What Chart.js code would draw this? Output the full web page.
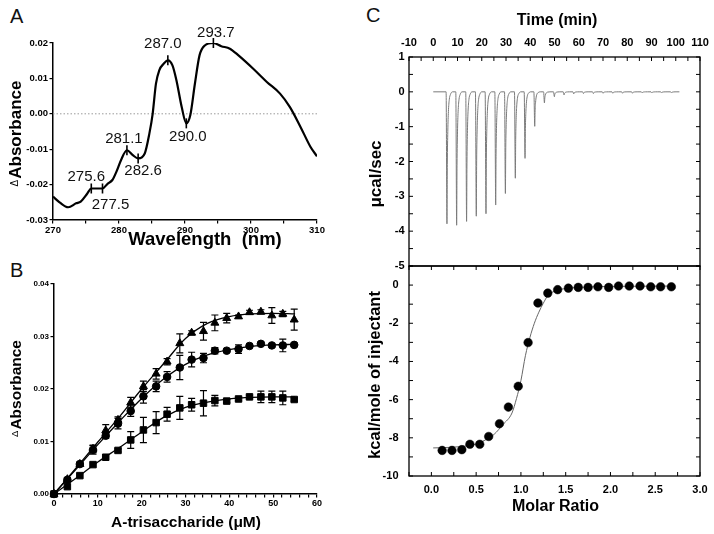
<!DOCTYPE html>
<html>
<head>
<meta charset="utf-8">
<script src="https://cdn.jsdelivr.net/npm/chart.js@4.4.1/dist/chart.umd.min.js"></script>
<style>
  body { margin: 0; background: #fff; }
  #fig { position: relative; width: 714px; height: 534px; background: #fff; font-family: "Liberation Sans", Arial, sans-serif; }
  #fig canvas { position: absolute; }
  .panel { position: absolute; font-size: 20px; line-height: 20px; color: #111; }
</style>
</head>
<body>
<div id="fig">
  <div class="panel" style="left:10px;top:6px">A</div>
  <div class="panel" style="left:10px;top:260px">B</div>
  <div class="panel" style="left:366px;top:5px">C</div>
  <canvas id="chartA" width="340" height="253" style="left:0;top:0"></canvas>
  <canvas id="chartB" width="340" height="281" style="left:0;top:253px"></canvas>
  <canvas id="chartC2" width="354" height="272" style="left:360px;top:262px"></canvas>
  <canvas id="chartC1" width="354" height="276" style="left:360px;top:0"></canvas>
</div>
<script>
var FONT = '"Liberation Sans", Arial, sans-serif';
Chart.defaults.font.family = FONT;
Chart.defaults.color = '#000';
Chart.defaults.animation = false;
Chart.defaults.events = [];
Chart.defaults.plugins.legend.display = false;
Chart.defaults.plugins.tooltip.enabled = false;

// ---- A: difference spectrum
var wavelength = [270, 271, 272.3, 273.5, 274.2, 275.2, 275.8, 276.7, 277.5, 278.3, 279.0, 279.6, 280.3, 281.2,
  282.1, 282.9, 283.9, 284.6, 285.1, 285.6, 286.1, 286.8, 287.4, 288.1, 288.7, 289.5, 290.2, 290.8, 291.5,
  292.2, 293.0, 294.3, 295.5, 296.8, 298.1, 300.3, 302.4, 304.4, 305.9, 307.5, 309.0, 310.0];
var deltaAbs = [-0.0234, -0.0250, -0.0264, -0.0253, -0.0248, -0.0225, -0.0211, -0.0211, -0.0211, -0.0197, -0.0187,
  -0.0164, -0.0131, -0.0103, -0.0117, -0.0126, -0.0112, -0.0056, 0.0000, 0.0085, 0.0123, 0.0142, 0.0151, 0.0137,
  0.0095, 0.0019, -0.0027, -0.0004, 0.0085, 0.0165, 0.0193, 0.0200, 0.0191, 0.0184, 0.0165, 0.0128, 0.0090,
  0.0057, 0.0019, -0.0037, -0.0093, -0.0120];
var zeroLine = [270, 310];
var peakWl = [275.8, 277.5, 281.2, 282.9, 287.4, 290.2, 294.3];
var peakAbs = [-0.0211, -0.0211, -0.0103, -0.0126, 0.0151, -0.0027, 0.0200];
var peakLabels = ['275.6', '277.5', '281.1', '282.6', '287.0', '290.0', '293.7'];

// ---- B: titration
var conc = [0, 3.05, 5.9, 8.9, 11.8, 14.6, 17.5, 20.4, 23.3, 25.8, 28.7, 31.4, 34.1, 36.7, 39.4, 42.1, 44.6, 47.2, 49.7, 52.2, 54.8];
var absTri = [0, 0.0028, 0.0057, 0.0086, 0.0121, 0.0141, 0.0174, 0.0205, 0.0229, 0.0252, 0.0287, 0.0307, 0.0310, 0.0326, 0.0335, 0.0338, 0.0346, 0.0347, 0.0340, 0.0343, 0.0332];
var errTri = [0, 0.0003, 0.0004, 0.0007, 0.0011, 0.0006, 0.0010, 0.0010, 0.0010, 0.0006, 0.0018, 0.0004, 0.0017, 0.0015, 0.0009, 0.0003, 0.0004, 0.0004, 0.0015, 0.0005, 0.0020];
var absCirc = [0, 0.0027, 0.0057, 0.0084, 0.0111, 0.0134, 0.0158, 0.0186, 0.0205, 0.0223, 0.0241, 0.0256, 0.0259, 0.0273, 0.0273, 0.0276, 0.0282, 0.0286, 0.0283, 0.0283, 0.0284];
var errCirc = [0, 0, 0.0003, 0.0008, 0.0005, 0.0010, 0.0010, 0.0013, 0.0010, 0.0010, 0.0023, 0.0014, 0.0009, 0.0006, 0.0003, 0.0008, 0.0003, 0.0003, 0.0003, 0.0012, 0.0003];
var absSq = [0, 0.0014, 0.0035, 0.0056, 0.0070, 0.0083, 0.0103, 0.0122, 0.0136, 0.0152, 0.0164, 0.0170, 0.0173, 0.0178, 0.0177, 0.0181, 0.0185, 0.0185, 0.0185, 0.0183, 0.0180];
var errSq = [0, 0, 0, 0, 0, 0.0003, 0.0016, 0.0024, 0.0021, 0.0013, 0.0022, 0.0012, 0.0024, 0.0010, 0.0003, 0.0003, 0.0003, 0.0011, 0.0011, 0.0013, 0.0003];
var fitConc = [0, 5, 10, 15, 20, 25, 30, 35, 40, 45, 50, 55];
var fitTri = [0, 0.0049, 0.0099, 0.0148, 0.0200, 0.0248, 0.0296, 0.0325, 0.0338, 0.0343, 0.0344, 0.0343];
var fitCirc = [0, 0.0047, 0.0094, 0.0139, 0.0182, 0.0219, 0.0247, 0.0265, 0.0275, 0.0281, 0.0284, 0.0285];
var fitSq = [0, 0.0030, 0.0061, 0.0089, 0.0118, 0.0146, 0.0165, 0.0175, 0.0181, 0.0184, 0.0185, 0.0185];

// ---- C: ITC raw trace and integrated heats
var injTime = [5.3, 9.3, 13.4, 17.4, 21.4, 25.4, 29.4, 33.5, 37.5, 41.5, 45.5, 49.6, 53.6, 57.6, 61.6, 65.7,
  69.7, 73.7, 77.7, 81.8, 85.8, 89.8, 93.8, 97.9];
var injPeak = [-3.79, -3.83, -3.72, -3.57, -3.50, -3.25, -2.92, -2.48, -1.91, -0.99, -0.32, -0.14, -0.09, -0.06,
  -0.05, -0.05, -0.04, -0.04, -0.04, -0.04, -0.03, -0.03, -0.03, -0.03];
// shape of one injection peak as seen on the trace: [minutes after injection, fraction of peak depth]
var spikeShape = [[0, 0], [0.35, 1], [0.5, 0.55], [0.7, 0.3], [0.95, 0.15], [1.3, 0.06], [1.8, 0.02], [2.6, 0]];
var runStart = 0, runEnd = 101.5;
var molarRatio = [0.12, 0.23, 0.34, 0.43, 0.54, 0.64, 0.76, 0.86, 0.97, 1.08, 1.19, 1.30, 1.41, 1.53, 1.64, 1.75,
  1.86, 1.98, 2.09, 2.21, 2.33, 2.45, 2.56, 2.68];
var heat = [-8.66, -8.66, -8.62, -8.34, -8.34, -7.93, -7.26, -6.39, -5.30, -3.01, -0.94, -0.42, -0.24, -0.16,
  -0.12, -0.12, -0.09, -0.12, -0.05, -0.05, -0.05, -0.09, -0.09, -0.09];
var fitRatio = [0.02, 0.2, 0.4, 0.5, 0.6, 0.7, 0.8, 0.9, 0.95, 1.0, 1.05, 1.1, 1.15, 1.2, 1.25, 1.3, 1.4, 1.5, 1.75, 2.0, 2.3, 2.68];
var fitHeat = [-8.53, -8.5, -8.42, -8.32, -8.12, -7.82, -7.3, -6.7, -5.95, -5.0, -3.7, -2.75, -2.0, -1.42, -0.95, -0.56, -0.28, -0.18, -0.1, -0.07, -0.06, -0.05];

function xy(xs, ys) { return xs.map(function(x, i) { return { x: x, y: ys[i] }; }); }

var thermogram = [{ x: runStart, y: 0 }];
injTime.forEach(function(t, i) {
  spikeShape.forEach(function(s) { thermogram.push({ x: t + s[0], y: injPeak[i] * s[1] }); });
});
thermogram.push({ x: runEnd, y: 0 });

function fmt2(v) { return Math.abs(v) < 1e-9 ? '0.00' : v.toFixed(2); }

// fix the axis box size and drop the automatic label overflow padding
function fixSize(w, h) {
  return function(s) {
    if (w) s.width = w;
    if (h) s.height = h;
    s.paddingTop = s.paddingBottom = s.paddingLeft = s.paddingRight = 0;
  };
}

// axis titles drawn on the canvas (lets the small delta sit in front of "Absorbance")
function titlesPlugin(items) {
  return {
    id: 'axisTitles',
    afterDraw: function(chart) {
      var ctx = chart.ctx;
      items.forEach(function(t) {
        ctx.save();
        ctx.translate(t.x, t.y);
        if (t.rot) ctx.rotate(-Math.PI / 2);
        ctx.fillStyle = '#000';
        ctx.font = 'bold ' + t.size + 'px ' + FONT;
        var w = ctx.measureText(t.text).width;
        var pw = 0;
        if (t.pre) {
          ctx.font = t.preSize + 'px ' + FONT;
          pw = ctx.measureText(t.pre).width + 1;
        }
        var x0 = -(w + pw) / 2;
        ctx.textAlign = 'left';
        if (t.pre) {
          ctx.textBaseline = 'alphabetic';
          ctx.fillText(t.pre, x0, 1);
        }
        ctx.font = 'bold ' + t.size + 'px ' + FONT;
        ctx.textBaseline = 'middle';
        ctx.fillText(t.text, x0 + pw, 0);
        ctx.restore();
      });
    }
  };
}

function peakLabelPlugin(dsIndex, labels, offsets) {
  return {
    id: 'peakLabels',
    afterDatasetsDraw: function(chart) {
      var ctx = chart.ctx;
      var pts = chart.getDatasetMeta(dsIndex).data;
      ctx.save();
      ctx.font = '15px ' + FONT;
      ctx.fillStyle = '#111';
      ctx.textAlign = 'center';
      ctx.textBaseline = 'middle';
      pts.forEach(function(p, i) { ctx.fillText(labels[i], p.x + offsets[i][0], p.y + offsets[i][1]); });
      ctx.restore();
    }
  };
}

function errorBarPlugin(errs) {
  return {
    id: 'errorBars',
    beforeDatasetsDraw: function(chart) {
      var ctx = chart.ctx, ys = chart.scales.y;
      ctx.save();
      ctx.strokeStyle = '#000';
      ctx.lineWidth = 1.2;
      errs.forEach(function(e, di) {
        if (!e) return;
        var ds = chart.data.datasets[di];
        chart.getDatasetMeta(di).data.forEach(function(p, i) {
          if (!e[i]) return;
          var v = ds.data[i].y;
          var top = ys.getPixelForValue(v + e[i]), bot = ys.getPixelForValue(v - e[i]);
          ctx.beginPath();
          ctx.moveTo(p.x, top); ctx.lineTo(p.x, bot);
          ctx.moveTo(p.x - 3.5, top); ctx.lineTo(p.x + 3.5, top);
          ctx.moveTo(p.x - 3.5, bot); ctx.lineTo(p.x + 3.5, bot);
          ctx.stroke();
        });
      });
      ctx.restore();
    }
  };
}

// box frame with inward ticks (Origin style)
function framePlugin(xSides, ySides, len) {
  return {
    id: 'frame',
    afterDraw: function(chart) {
      var a = chart.chartArea, ctx = chart.ctx;
      var xs = chart.scales.x, ys = chart.scales.y;
      ctx.save();
      ctx.strokeStyle = '#000';
      ctx.lineWidth = 1.3;
      ctx.strokeRect(a.left, a.top, a.right - a.left, a.bottom - a.top);
      ctx.lineWidth = 1;
      ctx.beginPath();
      xs.ticks.forEach(function(t) {
        var px = xs.getPixelForValue(t.value);
        if (xSides.indexOf('top') >= 0) { ctx.moveTo(px, a.top); ctx.lineTo(px, a.top + len); }
        if (xSides.indexOf('bottom') >= 0) { ctx.moveTo(px, a.bottom); ctx.lineTo(px, a.bottom - len); }
      });
      ys.ticks.forEach(function(t) {
        var py = ys.getPixelForValue(t.value);
        if (ySides.indexOf('left') >= 0) { ctx.moveTo(a.left, py); ctx.lineTo(a.left + len, py); }
        if (ySides.indexOf('right') >= 0) { ctx.moveTo(a.right, py); ctx.lineTo(a.right - len, py); }
      });
      ctx.stroke();
      ctx.restore();
    }
  };
}

var outGrid = { drawOnChartArea: false, drawTicks: true, tickLength: 3.5, color: '#000', lineWidth: 1.2 };
var axisBorder = { color: '#000', width: 1.5 };
var noGrid = { display: false, drawTicks: false };

// ---------- Panel A
new Chart(document.getElementById('chartA'), {
  type: 'scatter',
  data: {
    datasets: [
      { data: xy(peakWl, peakAbs), pointStyle: 'line', rotation: 90, pointRadius: 5,
        borderColor: '#000', borderWidth: 1.6, clip: false },
      { data: xy(wavelength, deltaAbs), showLine: true, pointRadius: 0, borderColor: '#000',
        borderWidth: 2.2, cubicInterpolationMode: 'monotone' },
      { data: xy(zeroLine, [0, 0]), showLine: true, pointRadius: 0, borderColor: '#9a9a9a',
        borderWidth: 1, borderDash: [1.5, 2] }
    ]
  },
  options: {
    responsive: false,
    layout: { autoPadding: false, padding: { top: 43, right: 23, left: 0, bottom: 0 } },
    scales: {
      x: {
        type: 'linear', min: 270, max: 310,
        ticks: { stepSize: 5, autoSkip: false, maxRotation: 0, padding: 1,
          font: { size: 9.5, weight: 'bold' },
          callback: function(v) { return v % 10 === 0 ? String(v) : ''; } },
        grid: outGrid, border: axisBorder,
        afterFit: fixSize(0, 33)
      },
      y: {
        min: -0.03, max: 0.02,
        ticks: { stepSize: 0.01, autoSkip: false, padding: 1.5, font: { size: 9.5, weight: 'bold' }, callback: fmt2 },
        grid: outGrid, border: axisBorder,
        afterFit: fixSize(53, 0)
      }
    }
  },
  plugins: [
    peakLabelPlugin(0, peakLabels, [[-5, -12], [8, 16], [-3, -11], [5, 12.5], [-5, -16], [1.5, 14], [2.5, -10]]),
    titlesPlugin([
      { text: 'Wavelength  (nm)', x: 205, y: 240, size: 18.5 },
      { text: 'Absorbance', pre: '\u0394', preSize: 10, x: 16.7, y: 133.5, size: 17, rot: true }
    ])
  ]
});

// ---------- Panel B
function markerSet(ys, style, r) {
  return { data: xy(conc, ys), pointStyle: style, pointRadius: r, backgroundColor: '#000',
    borderColor: '#000', borderWidth: 1, clip: false };
}
function fitSet(ys) {
  return { data: xy(fitConc, ys), showLine: true, pointRadius: 0, borderColor: '#000',
    borderWidth: 1.3, cubicInterpolationMode: 'monotone', clip: false };
}
new Chart(document.getElementById('chartB'), {
  type: 'scatter',
  data: {
    datasets: [
      markerSet(absTri, 'triangle', 4.6),
      markerSet(absCirc, 'circle', 3.8),
      markerSet(absSq, 'rect', 4.6),
      fitSet(fitTri), fitSet(fitCirc), fitSet(fitSq)
    ]
  },
  options: {
    responsive: false,
    layout: { autoPadding: false, padding: { top: 31, right: 23, left: 0, bottom: 0 } },
    scales: {
      x: {
        type: 'linear', min: 0, max: 60,
        ticks: { stepSize: 2, autoSkip: false, maxRotation: 0, padding: 0.5,
          font: { size: 9, weight: 'bold' },
          callback: function(v) { return v % 10 === 0 ? String(v) : ''; } },
        grid: outGrid, border: axisBorder,
        afterFit: fixSize(0, 40)
      },
      y: {
        min: 0, max: 0.04,
        ticks: { stepSize: 0.01, autoSkip: false, padding: 1.5, font: { size: 8, weight: 'bold' }, callback: fmt2 },
        grid: outGrid, border: axisBorder,
        afterFit: fixSize(54, 0)
      }
    }
  },
  plugins: [
    errorBarPlugin([errTri, errCirc, errSq]),
    titlesPlugin([
      { text: 'A-trisaccharide (\u03bcM)', x: 186, y: 270, size: 15.5 },
      { text: 'Absorbance', pre: '\u0394', preSize: 9.5, x: 16.7, y: 135.5, size: 15.5, rot: true }
    ])
  ]
});

// ---------- Panel C, raw heat trace
var tickFontC = { size: 11, weight: 'bold' };
new Chart(document.getElementById('chartC1'), {
  type: 'scatter',
  data: {
    datasets: [
      { data: thermogram, showLine: true, pointRadius: 0, borderColor: '#7a7a7a', borderWidth: 1,
        cubicInterpolationMode: 'monotone' }
    ]
  },
  options: {
    responsive: false,
    layout: { autoPadding: false, padding: { top: 0, right: 14, left: 0, bottom: 10 } },
    scales: {
      x: {
        type: 'linear', position: 'top', min: -10, max: 110,
        ticks: { stepSize: 5, autoSkip: false, maxRotation: 0, padding: 7, font: tickFontC,
          callback: function(v) { return Math.round(v) % 10 === 0 ? String(Math.round(v)) : ''; } },
        grid: noGrid, border: { display: false },
        afterFit: fixSize(0, 57)
      },
      y: {
        min: -5, max: 1,
        ticks: { stepSize: 0.5, autoSkip: false, padding: 4.5, font: tickFontC,
          callback: function(v) { return Number.isInteger(v) ? String(v) : ''; } },
        grid: noGrid, border: { display: false },
        afterFit: fixSize(49, 0)
      }
    }
  },
  plugins: [
    framePlugin(['top'], ['left', 'right'], 4),
    titlesPlugin([
      { text: 'Time (min)', x: 197, y: 21, size: 16 },
      { text: '\u03bccal/sec', x: 16.7, y: 174, size: 17, rot: true }
    ])
  ]
});

// ---------- Panel C, integrated heats
new Chart(document.getElementById('chartC2'), {
  type: 'scatter',
  data: {
    datasets: [
      { data: xy(molarRatio, heat), pointStyle: 'circle', pointRadius: 4.3, backgroundColor: '#000',
        borderColor: '#000', borderWidth: 0.5, clip: false },
      { data: xy(fitRatio, fitHeat), showLine: true, pointRadius: 0, borderColor: '#666', borderWidth: 1,
        cubicInterpolationMode: 'monotone' }
    ]
  },
  options: {
    responsive: false,
    layout: { autoPadding: false, padding: { top: 4, right: 14, left: 0, bottom: 0 } },
    scales: {
      x: {
        type: 'linear', min: -0.25, max: 3.0,
        ticks: { stepSize: 0.25, autoSkip: false, maxRotation: 0, padding: 7.4, font: tickFontC,
          callback: function(v) { return Math.abs(v * 2 - Math.round(v * 2)) < 1e-6 ? v.toFixed(1) : ''; } },
        grid: noGrid, border: { display: false },
        afterFit: fixSize(0, 58)
      },
      y: {
        min: -10, max: 1,
        ticks: { stepSize: 1, autoSkip: false, padding: 10.5, font: tickFontC,
          callback: function(v) { return v % 2 === 0 ? String(v) : ''; } },
        grid: noGrid, border: { display: false },
        afterFit: fixSize(49, 0)
      }
    }
  },
  plugins: [
    framePlugin(['top', 'bottom'], ['left', 'right'], 4),
    titlesPlugin([
      { text: 'Molar Ratio', x: 195.5, y: 245, size: 16 },
      { text: 'kcal/mole of injectant', x: 15.5, y: 113, size: 16.5, rot: true }
    ])
  ]
});
</script>
</body>
</html>
